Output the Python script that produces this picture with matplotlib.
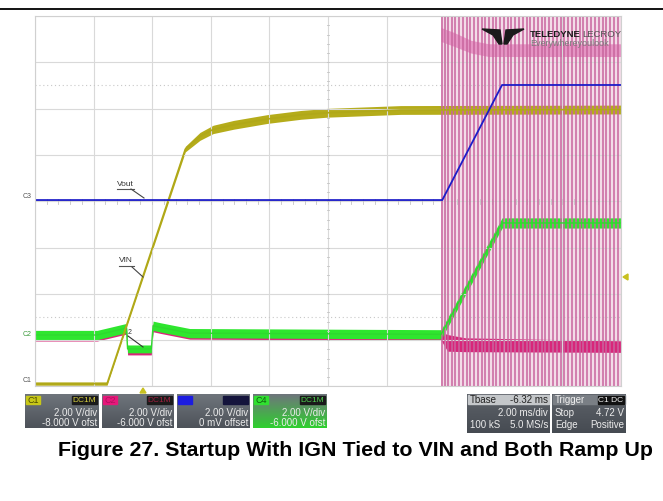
import numpy as np
import matplotlib
matplotlib.use('Agg')
import matplotlib.pyplot as plt
from matplotlib.patches import Rectangle, Polygon

plt.rcParams['font.family'] = ['Liberation Sans', 'DejaVu Sans']

W, H = 663, 501

# Scope settings
VOLTS_PER_DIV = 2.0
offsets = {'C1': -8.0, 'C2': -6.0, 'C3': 0.0, 'C4': -6.0}
MS_PER_DIV = 2.0
T_LEFT = -3.68          # ms at left edge (Tbase -6.32 ms)
T_RIGHT = 16.32

# C1 - VIN (yellow)
vin_t = [-3.68, -1.22, 1.45, 1.95, 2.4, 3.1, 4.25, 5.4, 6.3, 8.8, 16.32]
vin_v = [0.12, 0.12, 10.25, 10.8, 11.1, 11.3, 11.55, 11.73, 11.82, 11.94, 11.96]
vin_noise = [0.07, 0.07, 0.12, 0.17, 0.18, 0.19, 0.19, 0.19, 0.19, 0.19, 0.19]

# C3 - Vout (blue)
vout_t = [-3.68, 10.22, 12.26, 16.32]
vout_v = [0.05, 0.05, 5.02, 5.02]

# C4 (green)
c4_t = [-3.68, -1.56, -0.56, -0.52, 0.29, 0.35, 0.6, 1.6, 10.18, 12.26, 16.32]
c4_v = [0.22, 0.22, 0.52, -0.38, -0.38, 0.62, 0.55, 0.3, 0.25, 5.06, 5.06]
c4_noise = [0.2, 0.2, 0.2, 0.17, 0.17, 0.2, 0.2, 0.2, 0.2, 0.22, 0.22]

# C2 - switch node (pink)
c2_t = [-3.68, -1.56, -0.56, -0.52, 0.29, 0.35, 0.6, 1.6, 10.18, 10.4, 11.0, 16.32]
c2_v = [0.14, 0.14, 0.44, -0.48, -0.48, 0.54, 0.47, 0.22, 0.17, -0.12, -0.2, -0.28]
c2_noise = [0.18, 0.18, 0.18, 0.16, 0.16, 0.18, 0.18, 0.18, 0.18, 0.36, 0.3, 0.25]
pulse_t = [10.20, 10.30, 10.42, 10.55, 10.67, 10.80, 10.92, 11.05, 11.18, 11.30,
           11.43, 11.56, 11.69, 11.81, 11.94, 12.07, 12.20, 12.33, 12.46, 12.58,
           12.71, 12.84, 12.97, 13.10, 13.23, 13.36, 13.48, 13.61, 13.74, 13.87,
           14.00, 14.13, 14.26, 14.39, 14.52, 14.65, 14.78, 14.91, 15.04, 15.17,
           15.30, 15.43, 15.56, 15.69, 15.82, 15.95, 16.08, 16.21]
pulse_low = -3.0
pulse_top = 16.0
ring_t = [10.18, 10.6, 11.2, 11.8, 16.32]
ring_lo = [12.9, 12.7, 12.4, 12.25, 12.25]
ring_hi = [13.5, 13.3, 12.95, 12.8, 12.8]


def to_div(v, ch):
    return 4 + (np.asarray(v, dtype=float) + offsets[ch]) / VOLTS_PER_DIV


fig = plt.figure(figsize=(W / 100, H / 100), dpi=100)
fig.patch.set_facecolor('white')

# Scope screen
left, right, top, bottom = 35, 621, 16, 386.4
ax = fig.add_axes([left / W, (H - bottom) / H, (right - left) / W, (bottom - top) / H])
ax.set_xlim(T_LEFT, T_RIGHT)
ax.set_ylim(0, 8)
ax.set_xticks([T_LEFT + i * MS_PER_DIV for i in range(11)])
ax.set_yticks(range(9))
ax.tick_params(length=0, labelbottom=False, labelleft=False)
ax.grid(True, color='#d9d9d9', lw=0.8)
for s in ax.spines.values():
    s.set_color('#d0d0d0')
    s.set_linewidth(0.8)

# centre graticule ticks
t_c = T_LEFT + 5 * MS_PER_DIV
for yy in np.arange(0, 8.01, 0.2):
    ax.plot([t_c - 0.05, t_c + 0.05], [yy, yy], color='#c4c4c4', lw=0.6)
for xx in np.arange(T_LEFT, T_RIGHT + 0.01, 0.4):
    ax.plot([xx, xx], [3.95, 4.05], color='#c4c4c4', lw=0.6)
for yy in (6.5, 1.5):
    ax.axhline(yy, color='#c8c8c8', lw=0.8, ls=(0, (1, 2.5)))

# C2 pink: switching region
ax.fill_between([pulse_t[0] - 0.02, T_RIGHT], 0, 8, color='#ecc6da', alpha=0.6, lw=0)
ax.vlines(pulse_t, to_div(pulse_low, 'C2'), to_div(pulse_top, 'C2'), color='#c9649e', lw=1.1)
ax.fill_between(ring_t, to_div(ring_lo, 'C2'), to_div(ring_hi, 'C2'), color='#d6409a', alpha=0.45, lw=0)
c2v = np.array(c2_v)
c2n = np.array(c2_noise)
ax.fill_between(c2_t, to_div(c2v - c2n, 'C2'), to_div(c2v + c2n, 'C2'), color='#d8267a', lw=0)

# C4 green
c4v = np.array(c4_v)
c4n = np.array(c4_noise)
ax.fill_between(c4_t, to_div(c4v - c4n, 'C4'), to_div(c4v + c4n, 'C4'), color='#2ee62e', lw=0)
ax.plot(c4_t, to_div(c4_v, 'C4'), color='#30d830', lw=1.0)

# C1 yellow
vv = np.array(vin_v)
vn = np.array(vin_noise)
ax.fill_between(vin_t, to_div(vv - vn, 'C1'), to_div(vv + vn, 'C1'), color='#b5ac1a', lw=0)
ax.plot(vin_t, to_div(vin_v, 'C1'), color='#b0a818', lw=1.2)

# C3 blue
ax.plot(vout_t, to_div(vout_v, 'C3'), color='#1c1cc8', lw=1.3)

# ---------- overlay in pixel coordinates ----------
ov = fig.add_axes([0, 0, 1, 1])
ov.patch.set_alpha(0)
ov.axis('off')

ov.plot([0, W], [9, 9], color='black', lw=1.3)

# channel markers on left
ov.text(27, 197, 'C3', fontsize=5, color='#555555', ha='center', va='center')
ov.text(27, 334, 'C2', fontsize=5, color='#3c9a3c', ha='center', va='center')
ov.text(27, 381, 'C1', fontsize=5, color='#555555', ha='center', va='center')

# trace annotations
ov.text(125, 184, 'Vout', fontsize=6, color='#333333', ha='center', va='center')
ov.plot([117, 134], [188.5, 188.5], color='#555555', lw=0.8)
ov.plot([131, 144], [189, 198], color='#444444', lw=0.8)
ov.text(126, 261, 'VIN', fontsize=6, color='#333333', ha='center', va='center')
ov.plot([119, 134], [266, 266], color='#555555', lw=0.8)
ov.plot([132, 143], [267, 277], color='#444444', lw=0.8)
ov.text(130, 332, '2', fontsize=5, color='#333333', ha='center', va='center')
ov.plot([128, 143], [336, 347], color='#333333', lw=0.8)

# trigger markers
ov.add_patch(Polygon([(140, 393), (146, 393), (143, 388)], closed=True, color='#c8c020'))
ov.add_patch(Polygon([(628, 274), (628, 280), (623, 277)], closed=True, color='#c8c020'))

# logo
ov.add_patch(Polygon([(482, 29), (500, 30), (502, 44), (499, 44), (493, 35)], closed=True, color='#1a1a1a'))
ov.add_patch(Polygon([(524, 29), (506, 30), (504, 44), (507, 44), (513, 35)], closed=True, color='#1a1a1a'))
ov.text(530, 34, 'TELEDYNE', fontsize=6.8, fontweight='bold', color='#1a1a1a', va='center', ha='left')
ov.text(621, 34, 'LECROY', fontsize=6.8, color='#555555', va='center', ha='right')
ov.text(530, 43.5, 'Everywhereyoulook', fontsize=6.5, color='#7a7a7a', va='center', ha='left')


def grad_box(x0, x1, y0, y1, c_top, c_bot):
    g = np.linspace(0, 1, 50)[:, None]
    ct = np.array(matplotlib.colors.to_rgb(c_top))
    cb = np.array(matplotlib.colors.to_rgb(c_bot))
    img = ct[None, None, :] * (1 - g[:, :, None]) + cb[None, None, :] * g[:, :, None]
    ov.imshow(img, extent=[x0, x1, y1, y0], aspect='auto', interpolation='bilinear', zorder=1)


def chan_box(x0, x1, chip_col, chip_txt, chip_tc, cpl_txt, cpl_tc, cpl_bg, l1, l2, bot_col='#4d5259'):
    grad_box(x0, x1, 394, 428, '#6f757c', bot_col)
    ov.add_patch(Rectangle((x0 + 1, 396), 14, 8, color=chip_col, zorder=2))
    ov.text(x0 + 2.5, 400.5, chip_txt, fontsize=6.5, color=chip_tc, va='center', ha='left', zorder=3)
    ov.add_patch(Rectangle((x1 - 27, 396), 25, 8, color=cpl_bg, zorder=2))
    ov.text(x1 - 3, 400.5, cpl_txt, fontsize=6, color=cpl_tc, va='center', ha='right', zorder=3)
    ov.text(x1 - 2, 412.5, l1, fontsize=7, color='#ececec', va='center', ha='right', zorder=3)
    ov.text(x1 - 2, 422.5, l2, fontsize=7, color='#ececec', va='center', ha='right', zorder=3)


chan_box(25, 99, '#c8c818', 'C1', '#4a4a00', 'DC1M', '#d8d040', '#1a1a1a', '2.00 V/div', '-8.000 V ofst')
chan_box(102, 174, '#e6187a', 'C2', '#b01060', 'DC1M', '#a02040', '#1a1a1a', '2.00 V/div', '-6.000 V ofst')
chan_box(177, 250, '#1c1ce0', 'C3', '#1c1ce0', '', '#202060', '#14143c', '2.00 V/div', '0 mV offset')
chan_box(253, 327, '#30e030', 'C4', '#106010', 'DC1M', '#50d050', '#1a1a1a', '2.00 V/div', '-6.000 V ofst',
         bot_col='#2ed02e')

# timebase box
grad_box(467, 550, 394, 433, '#5d6269', '#464b52')
ov.add_patch(Rectangle((468, 395), 81, 9, color='#c4c7ca', zorder=2))
ov.text(470, 400, 'Tbase', fontsize=7, color='#222222', va='center', ha='left', zorder=3)
ov.text(548, 400, '-6.32 ms', fontsize=7, color='#222222', va='center', ha='right', zorder=3)
ov.text(548, 413, '2.00 ms/div', fontsize=7, color='#ececec', va='center', ha='right', zorder=3)
ov.text(470, 425, '100 kS', fontsize=7, color='#ececec', va='center', ha='left', zorder=3)
ov.text(548, 425, '5.0 MS/s', fontsize=7, color='#ececec', va='center', ha='right', zorder=3)

# trigger box
grad_box(552, 626, 394, 433, '#5d6269', '#464b52')
ov.add_patch(Rectangle((553, 395), 72, 9, color='#7a7f85', zorder=2))
ov.text(555, 400, 'Trigger', fontsize=7, color='#f0f0f0', va='center', ha='left', zorder=3)
ov.add_patch(Rectangle((598, 396), 26, 7.5, color='#111111', zorder=3))
ov.text(611, 400, 'C1 DC', fontsize=6, color='#f0f0f0', va='center', ha='center', zorder=4)
ov.text(555, 413, 'Stop', fontsize=7, color='#ececec', va='center', ha='left', zorder=3)
ov.text(624, 413, '4.72 V', fontsize=7, color='#ececec', va='center', ha='right', zorder=3)
ov.text(555, 425, 'Edge', fontsize=7, color='#ececec', va='center', ha='left', zorder=3)
ov.text(624, 425, 'Positive', fontsize=7, color='#ececec', va='center', ha='right', zorder=3)

# caption
ov.text(355, 450, 'Figure 27. Startup With IGN Tied to VIN and Both Ramp Up',
        fontsize=15.4, fontweight='bold', color='black', ha='center', va='center')

ov.set_xlim(0, W)
ov.set_ylim(H, 0)

fig.savefig('out.png', dpi=100, facecolor='white')
